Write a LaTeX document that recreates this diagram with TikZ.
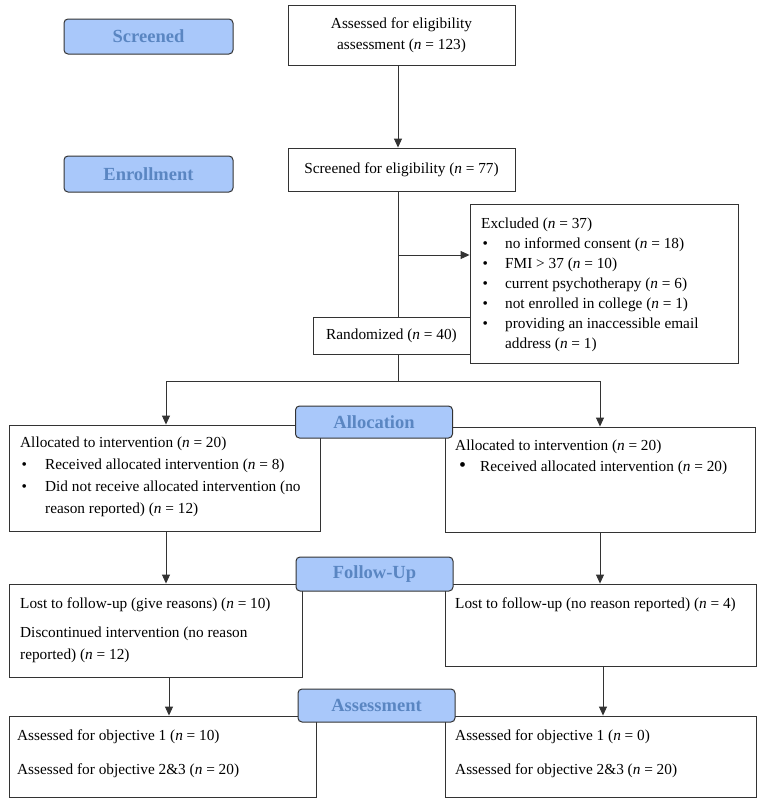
\documentclass[tikz,border=0pt]{standalone}
\usepackage{fontspec}
\setmainfont{Liberation Serif}
\usetikzlibrary{arrows.meta,calc}
\definecolor{lblfill}{HTML}{A9C8FA}
\definecolor{lbltext}{HTML}{5A86C2}
\definecolor{linec}{HTML}{333333}
\newcommand{\bul}[1]{\makebox[#1][l]{\hspace{1.5pt}\textbullet}}
\begin{document}
\begin{tikzpicture}[x=1pt,y=-1pt,
  box/.style={draw=linec,line width=0.9pt,fill=white,inner sep=0pt,align=center,
    font=\fontsize{15.3}{21}\selectfont},
  lbl/.style={draw=black!80,line width=1pt,fill=lblfill,rounded corners=4pt,inner sep=0pt,
    text=lbltext,font=\fontsize{18.5}{22}\selectfont\bfseries,minimum width=157pt},
  txt/.style={anchor=base west,inner sep=0pt,align=left,font=\fontsize{15.3}{22}\selectfont},
  arr/.style={draw=linec,line width=0.9pt,-{Triangle[length=9pt,width=8pt]}},
  ln/.style={draw=linec,line width=0.9pt}]
\useasboundingbox (0,0) rectangle (761,803);

% side labels
\node[lbl,minimum width=169pt,minimum height=35pt] (scr) at (148.5,36.5) {Screened};
\node[lbl,minimum width=169pt,minimum height=36pt] (enr) at (148.5,174) {Enrollment};

% top boxes
\node[box,minimum width=227pt,minimum height=60pt] (b1) at (401.5,35)
  {Assessed for eligibility\\assessment (\textit{n} = 123)};
\node[box,minimum width=227pt,minimum height=43pt] (b2) at (401.5,169.5)
  {Screened for eligibility (\textit{n} = 77)};
\node[box,minimum width=157pt,minimum height=37pt] (rand) at (391.5,335.5)
  {Randomized (\textit{n} = 40)};
\node[box,minimum width=268pt,minimum height=159pt] (excl) at (604,283.5) {};
\node[txt] (exclt) at (481,348) {Excluded (\textit{n} = 37)\\[-2pt]
  \bul{24pt}no informed consent (\textit{n} = 18)\\[-2pt]
  \bul{24pt}FMI > 37 (\textit{n} = 10)\\[-2pt]
  \bul{24pt}current psychotherapy (\textit{n} = 6)\\[-2pt]
  \bul{24pt}not enrolled in college (\textit{n} = 1)\\[-2pt]
  \bul{24pt}providing an inaccessible email\\[-2pt]
  \hspace*{24pt}address (\textit{n} = 1)};

% allocation boxes
\node[box,minimum width=311pt,minimum height=106pt] (aL) at (164.5,478) {};
\node[txt] (aLt) at (20,513) {Allocated to intervention (\textit{n} = 20)\\
  \bul{25pt}Received allocated intervention (\textit{n} = 8)\\
  \bul{25pt}Did not receive allocated intervention (no\\
  \hspace*{25pt}reason reported) (\textit{n} = 12)};
\node[box,minimum width=310pt,minimum height=105pt] (aR) at (600,479.5) {};
\node[txt] (aRt) at (455,471) {Allocated to intervention (\textit{n} = 20)\\[-1pt]
  \makebox[25pt][l]{\hspace{4pt}\scalebox{1.3}{\textbullet}}Received allocated intervention (\textit{n} = 20)};

% follow-up boxes
\node[box,minimum width=293pt,minimum height=93pt] (fL) at (155.5,630.5) {};
\node[txt] (fLt) at (20,659) {Lost to follow-up (give reasons) (\textit{n} = 10)\\[7pt]
  Discontinued intervention (no reason\\
  reported) (\textit{n} = 12)};
\node[box,minimum width=311pt,minimum height=82pt] (fR) at (600.5,625) {};
\node[txt] (fRt) at (455,608) {Lost to follow-up (no reason reported) (\textit{n} = 4)};

% assessment boxes
\node[box,minimum width=307pt,minimum height=81pt] (sL) at (162.5,756.5) {};
\node[txt] (sLt) at (17,774) {Assessed for objective 1 (\textit{n} = 10)\\[12pt]
  Assessed for objective 2\&3 (\textit{n} = 20)};
\node[box,minimum width=311pt,minimum height=81pt] (sR) at (600.5,756.5) {};
\node[txt] (sRt) at (455,774) {Assessed for objective 1 (\textit{n} = 0)\\[12pt]
  Assessed for objective 2\&3 (\textit{n} = 20)};

% connectors
\coordinate (spine) at (398,0);
\coordinate (branch) at (398,255);
\coordinate (split) at (398,381);
\draw[arr] (b1.south -| spine) -- (b2.north -| spine);
\draw[ln] (b2.south -| spine) -- (rand.north -| spine);
\draw[arr] (branch) -- (branch -| excl.west);
\draw[ln] (rand.south -| spine) -- (split);
\draw[arr] (split) -| ([xshift=1.5pt]aL.north);
\draw[arr] (split) -| (aR.north);
\draw[arr] ([xshift=1.5pt]aL.south) -- ([xshift=1.5pt]aL.south |- fL.north);
\draw[arr] (aR.south) -- (aR.south |- fR.north);
\draw[arr] ([xshift=13.5pt]fL.south) -- ([xshift=13.5pt]fL.south |- sL.north);
\draw[arr] ([xshift=2.5pt]fR.south) -- ([xshift=2.5pt]fR.south |- sR.north);

% stage labels
\node[lbl,minimum height=32pt] (alloc) at (374,422) {Allocation};
\node[lbl,minimum height=34pt] (fu) at (374.5,574) {Follow-Up};
\node[lbl,minimum height=33pt] (ass) at (376.5,705.5) {Assessment};
\end{tikzpicture}
\end{document}
